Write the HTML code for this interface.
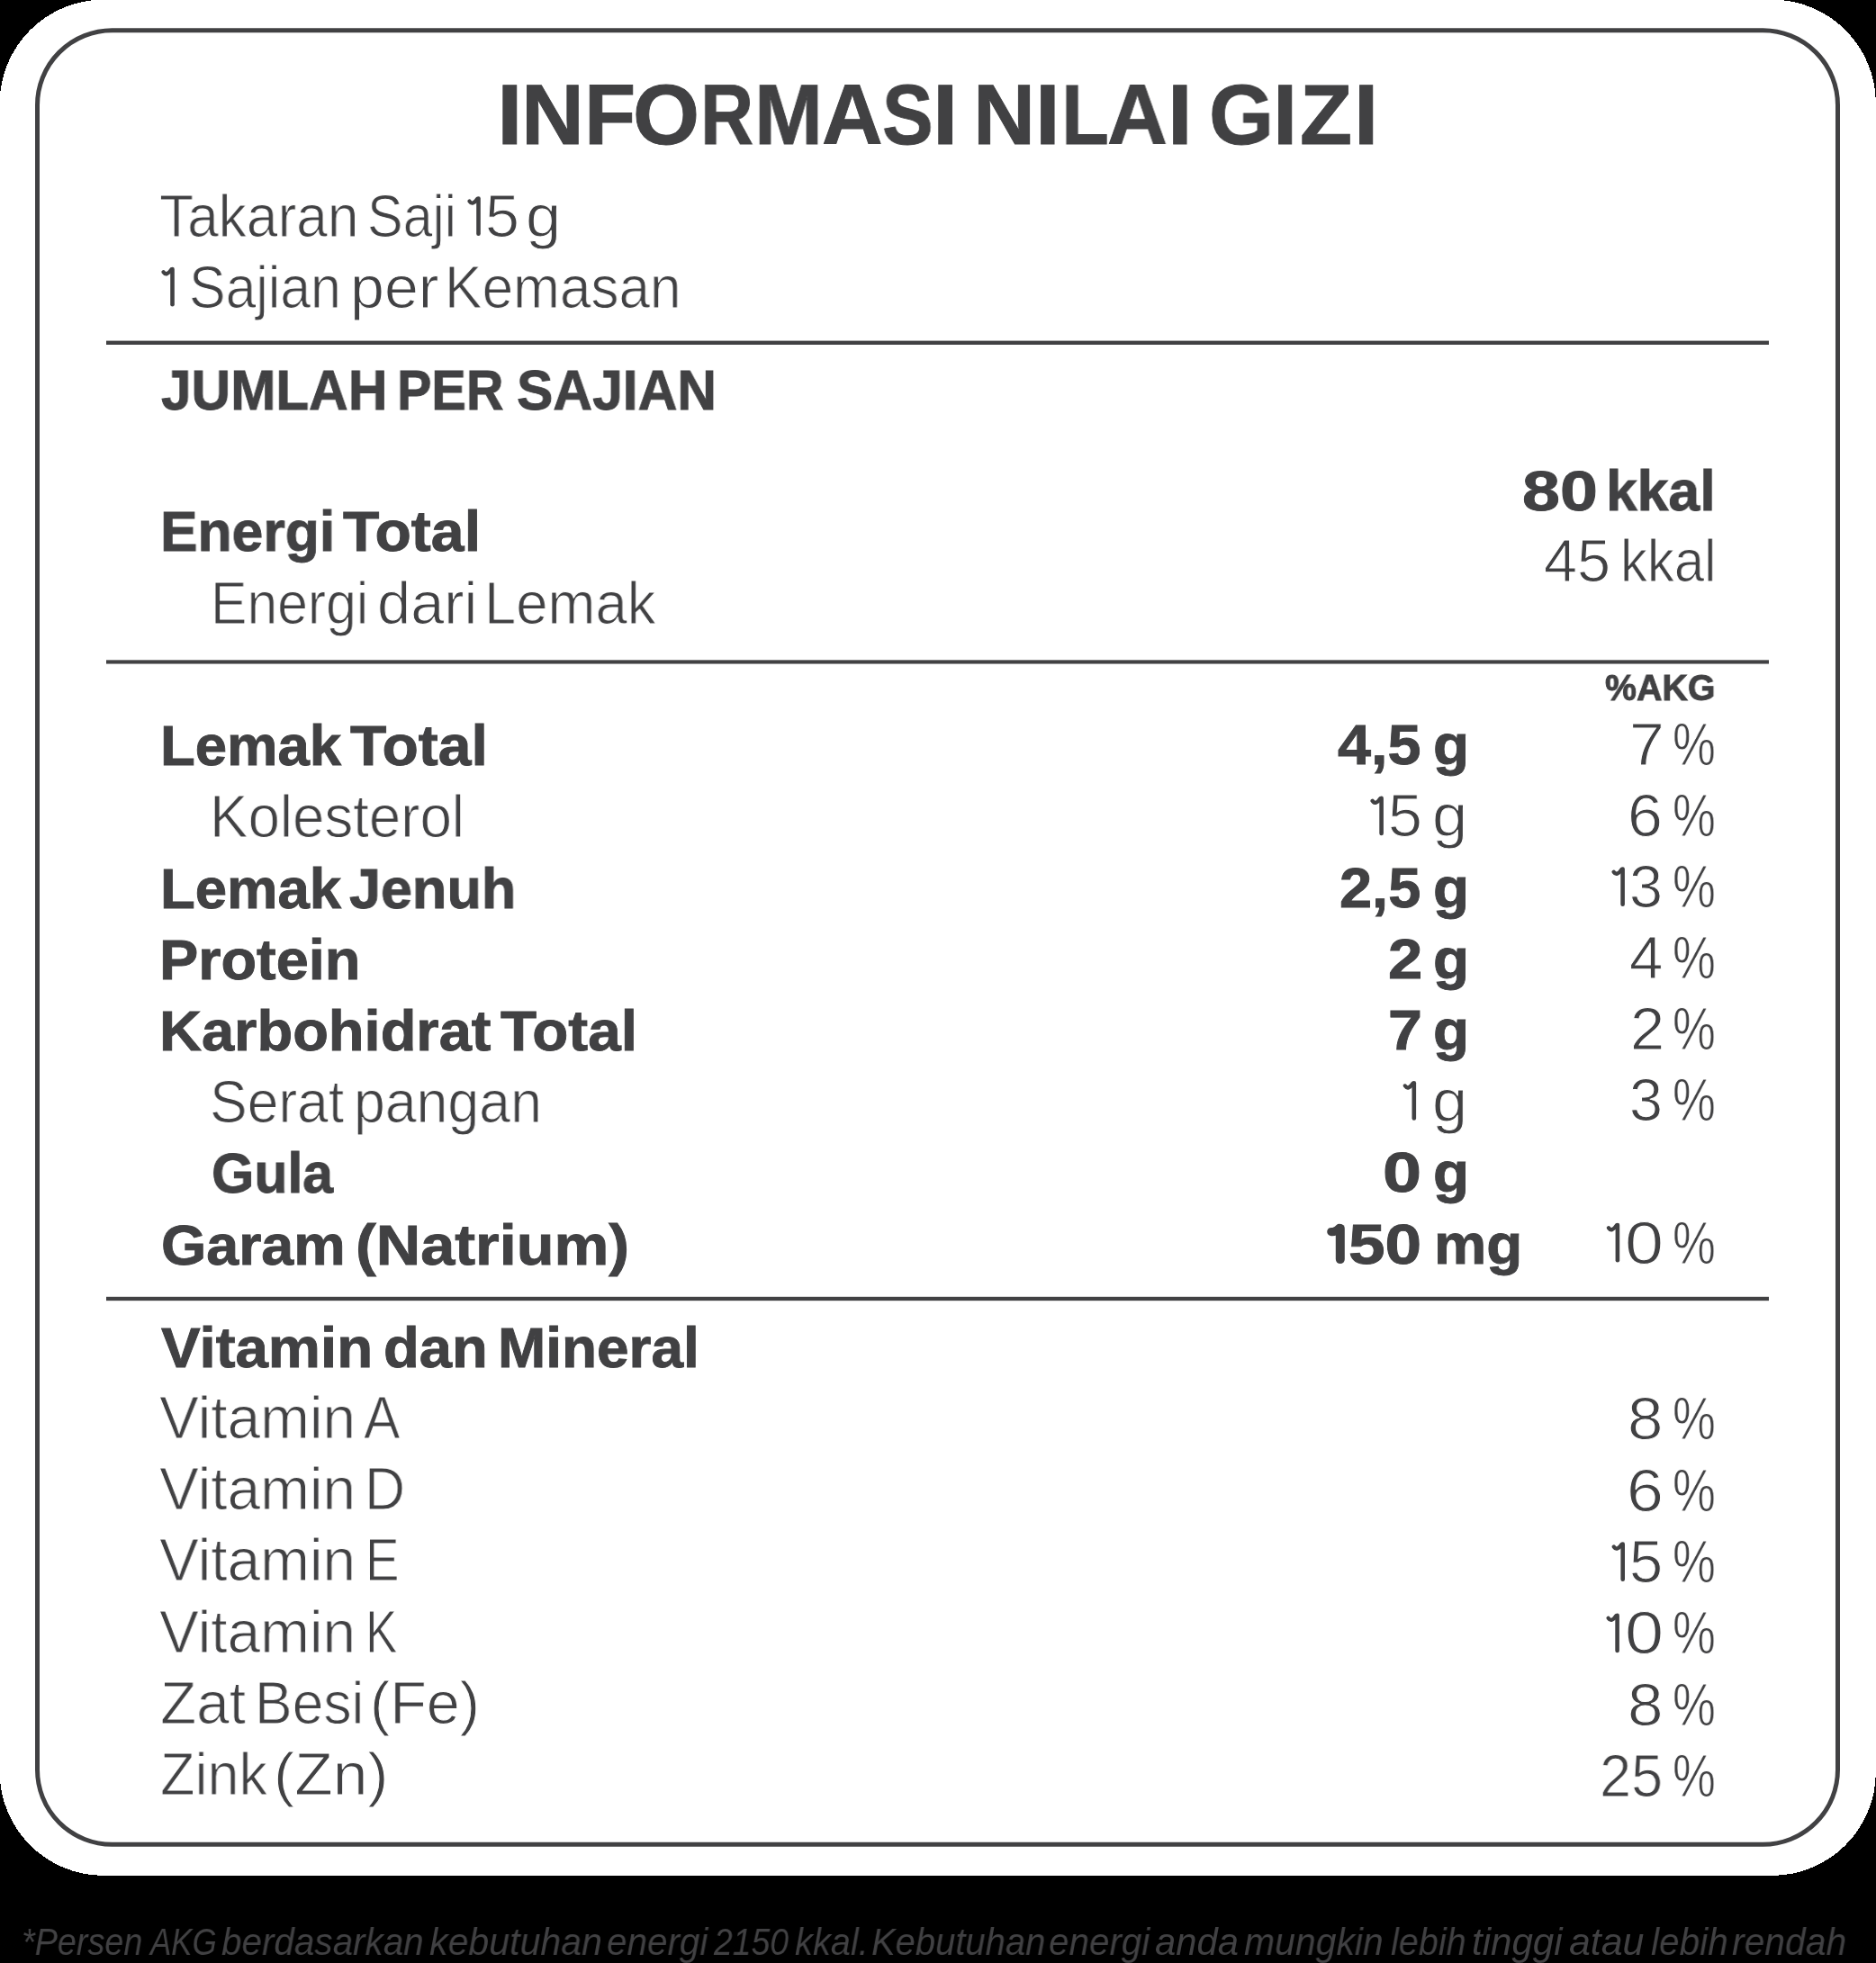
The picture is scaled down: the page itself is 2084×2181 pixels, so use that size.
<!DOCTYPE html>
<html><head><meta charset="utf-8"><style>
html,body{margin:0;padding:0}
body{width:2084px;height:2181px;background:#000;position:relative;overflow:hidden;font-family:"Liberation Sans",sans-serif;color:#414143}
.bg,.ones{position:absolute;left:0;top:0}
.t{position:absolute;white-space:pre;transform-origin:0 0;will-change:transform}
.b{font-weight:700;-webkit-text-stroke:0.9px #414143}
.r{-webkit-text-stroke:1.0px #fff}
.fn{font-style:italic}
</style></head><body>
<svg class="bg" width="2084" height="2181" viewBox="0 0 2084 2181"><rect x="-0.34" y="-0.34" width="2084.2" height="2084.2" rx="115.3" fill="#fff" shape-rendering="crispEdges"/><rect x="41.5" y="33.8" width="2000" height="2015.5" rx="83" fill="none" stroke="#414143" stroke-width="5"/><g fill="#414143"><rect x="118" y="378.6" width="1847" height="4.4"/><rect x="118" y="733.35" width="1847" height="4.2"/><rect x="118" y="1440.8" width="1847" height="4.35"/></g></svg>
<div class="t b" style="left:551.60px;top:81.30px;font-size:93.64px;line-height:93.64px;transform:scaleX(1.1000)">I</div>
<div class="t b" style="left:579.31px;top:81.30px;font-size:93.64px;line-height:93.64px;transform:scaleX(1.0321)">N</div>
<div class="t b" style="left:648.50px;top:81.30px;font-size:93.64px;line-height:93.64px;transform:scaleX(1.0000)">F</div>
<div class="t b" style="left:702.95px;top:81.30px;font-size:93.64px;line-height:93.64px;transform:scaleX(1.0167)">O</div>
<div class="t b" style="left:777.56px;top:81.30px;font-size:93.64px;line-height:93.64px;transform:scaleX(0.8733)">R</div>
<div class="t b" style="left:837.75px;top:81.30px;font-size:93.64px;line-height:93.64px;transform:scaleX(0.9742)">M</div>
<div class="t b" style="left:912.70px;top:81.30px;font-size:93.64px;line-height:93.64px;transform:scaleX(1.0000)">A</div>
<div class="t b" style="left:979.59px;top:81.30px;font-size:93.64px;line-height:93.64px;transform:scaleX(0.9070)">S</div>
<div class="t b" style="left:1036.19px;top:81.30px;font-size:93.64px;line-height:93.64px;transform:scaleX(1.0857)">I</div>
<div class="t b" style="left:1080.57px;top:81.30px;font-size:93.64px;line-height:93.64px;transform:scaleX(1.0214)">N</div>
<div class="t b" style="left:1150.21px;top:81.30px;font-size:93.64px;line-height:93.64px;transform:scaleX(1.0643)">I</div>
<div class="t b" style="left:1178.67px;top:81.30px;font-size:93.64px;line-height:93.64px;transform:scaleX(0.9224)">L</div>
<div class="t b" style="left:1230.42px;top:81.30px;font-size:93.64px;line-height:93.64px;transform:scaleX(0.9891)">A</div>
<div class="t b" style="left:1297.21px;top:81.30px;font-size:93.64px;line-height:93.64px;transform:scaleX(1.0643)">I</div>
<div class="t b" style="left:1343.13px;top:81.30px;font-size:93.64px;line-height:93.64px;transform:scaleX(0.9891)">G</div>
<div class="t b" style="left:1414.00px;top:81.30px;font-size:93.64px;line-height:93.64px;transform:scaleX(1.0500)">I</div>
<div class="t b" style="left:1443.77px;top:81.30px;font-size:93.64px;line-height:93.64px;transform:scaleX(1.0151)">Z</div>
<div class="t b" style="left:1503.50px;top:81.30px;font-size:93.64px;line-height:93.64px;transform:scaleX(1.0500)">I</div>
<div class="t r" style="left:177.43px;top:207.00px;font-size:66.58px;line-height:66.58px;transform:scaleX(0.9352)">Takaran</div>
<div class="t r" style="left:407.94px;top:207.00px;font-size:66.58px;line-height:66.58px;transform:scaleX(0.8902)">Saji</div>
<div class="t r" style="left:538.91px;top:207.00px;font-size:66.58px;line-height:66.58px;transform:scaleX(1.0233)">5</div>
<div class="t r" style="left:583.92px;top:207.00px;font-size:66.58px;line-height:66.58px;transform:scaleX(1.0586)">g</div>
<div class="t r" style="left:210.45px;top:285.60px;font-size:66.58px;line-height:66.58px;transform:scaleX(0.9125)">Sajian</div>
<div class="t r" style="left:388.78px;top:285.60px;font-size:66.58px;line-height:66.58px;transform:scaleX(1.0236)">per</div>
<div class="t r" style="left:493.80px;top:285.60px;font-size:66.58px;line-height:66.58px;transform:scaleX(0.9333)">Kemasan</div>
<div class="t b" style="left:178.65px;top:402.00px;font-size:63.49px;line-height:63.49px;transform:scaleX(0.9500)">JUMLAH</div>
<div class="t b" style="left:440.97px;top:402.00px;font-size:63.49px;line-height:63.49px;transform:scaleX(0.9071)">PER</div>
<div class="t b" style="left:574.35px;top:402.00px;font-size:63.49px;line-height:63.49px;transform:scaleX(0.9535)">SAJIAN</div>
<div class="t b" style="left:177.57px;top:559.40px;font-size:63.49px;line-height:63.49px;transform:scaleX(0.9821)">Energi</div>
<div class="t b" style="left:381.20px;top:559.40px;font-size:63.49px;line-height:63.49px;transform:scaleX(1.0413)">Total</div>
<div class="t r" style="left:233.84px;top:636.50px;font-size:66.58px;line-height:66.58px;transform:scaleX(0.9099)">Energi</div>
<div class="t r" style="left:419.19px;top:636.50px;font-size:66.58px;line-height:66.58px;transform:scaleX(1.0029)">dari</div>
<div class="t r" style="left:537.98px;top:636.50px;font-size:66.58px;line-height:66.58px;transform:scaleX(0.9531)">Lemak</div>
<div class="t b" style="left:1690.52px;top:513.50px;font-size:63.49px;line-height:63.49px;transform:scaleX(1.1879)">80</div>
<div class="t b" style="left:1784.17px;top:513.50px;font-size:63.49px;line-height:63.49px;transform:scaleX(0.9836)">kkal</div>
<div class="t r" style="left:1715.11px;top:590.00px;font-size:66.58px;line-height:66.58px;transform:scaleX(0.9957)">45</div>
<div class="t r" style="left:1799.60px;top:590.00px;font-size:66.58px;line-height:66.58px;transform:scaleX(0.9000)">kkal</div>
<div class="t b" style="left:1783.15px;top:743.20px;font-size:41.52px;line-height:41.52px;transform:scaleX(0.9476)">%AKG</div>
<div class="t b" style="left:177.60px;top:796.80px;font-size:63.49px;line-height:63.49px;transform:scaleX(1.0000)">Lemak</div>
<div class="t b" style="left:388.90px;top:796.80px;font-size:63.49px;line-height:63.49px;transform:scaleX(1.0399)">Total</div>
<div class="t b" style="left:1486.25px;top:796.00px;font-size:63.49px;line-height:63.49px;transform:scaleX(1.0477)">4,5</div>
<div class="t b" style="left:1591.83px;top:796.00px;font-size:63.49px;line-height:63.49px;transform:scaleX(1.0333)">g</div>
<div class="t r" style="left:1810.41px;top:793.90px;font-size:66.58px;line-height:66.58px;transform:scaleX(1.0483)">7</div>
<div class="t r" style="left:1857.67px;top:793.90px;font-size:66.58px;line-height:66.58px;transform:scaleX(0.8094)">%</div>
<div class="t r" style="left:232.57px;top:874.00px;font-size:66.58px;line-height:66.58px;transform:scaleX(0.9558)">Kolesterol</div>
<div class="t r" style="left:1541.91px;top:873.20px;font-size:66.58px;line-height:66.58px;transform:scaleX(1.0233)">5</div>
<div class="t r" style="left:1590.82px;top:873.20px;font-size:66.58px;line-height:66.58px;transform:scaleX(1.0586)">g</div>
<div class="t r" style="left:1808.30px;top:873.00px;font-size:66.58px;line-height:66.58px;transform:scaleX(1.0500)">6</div>
<div class="t r" style="left:1857.67px;top:873.00px;font-size:66.58px;line-height:66.58px;transform:scaleX(0.8094)">%</div>
<div class="t b" style="left:177.60px;top:956.00px;font-size:63.49px;line-height:63.49px;transform:scaleX(1.0000)">Lemak</div>
<div class="t b" style="left:388.41px;top:956.00px;font-size:63.49px;line-height:63.49px;transform:scaleX(0.9907)">Jenuh</div>
<div class="t b" style="left:1488.46px;top:955.20px;font-size:63.49px;line-height:63.49px;transform:scaleX(1.0224)">2,5</div>
<div class="t b" style="left:1591.83px;top:955.20px;font-size:63.49px;line-height:63.49px;transform:scaleX(1.0333)">g</div>
<div class="t r" style="left:1810.01px;top:952.10px;font-size:66.58px;line-height:66.58px;transform:scaleX(0.9968)">3</div>
<div class="t r" style="left:1857.67px;top:952.10px;font-size:66.58px;line-height:66.58px;transform:scaleX(0.8094)">%</div>
<div class="t b" style="left:177.11px;top:1035.10px;font-size:63.49px;line-height:63.49px;transform:scaleX(1.0213)">Protein</div>
<div class="t b" style="left:1541.63px;top:1034.30px;font-size:63.49px;line-height:63.49px;transform:scaleX(1.0839)">2</div>
<div class="t b" style="left:1591.83px;top:1034.30px;font-size:63.49px;line-height:63.49px;transform:scaleX(1.0333)">g</div>
<div class="t r" style="left:1809.68px;top:1031.20px;font-size:66.58px;line-height:66.58px;transform:scaleX(1.0091)">4</div>
<div class="t r" style="left:1857.67px;top:1031.20px;font-size:66.58px;line-height:66.58px;transform:scaleX(0.8094)">%</div>
<div class="t b" style="left:177.00px;top:1114.05px;font-size:63.49px;line-height:63.49px;transform:scaleX(1.0242)">Karbohidrat</div>
<div class="t b" style="left:556.40px;top:1114.05px;font-size:63.49px;line-height:63.49px;transform:scaleX(1.0336)">Total</div>
<div class="t b" style="left:1542.45px;top:1113.25px;font-size:63.49px;line-height:63.49px;transform:scaleX(1.0742)">7</div>
<div class="t b" style="left:1591.83px;top:1113.25px;font-size:63.49px;line-height:63.49px;transform:scaleX(1.0333)">g</div>
<div class="t r" style="left:1810.98px;top:1110.30px;font-size:66.58px;line-height:66.58px;transform:scaleX(1.0310)">2</div>
<div class="t r" style="left:1857.67px;top:1110.30px;font-size:66.58px;line-height:66.58px;transform:scaleX(0.8094)">%</div>
<div class="t r" style="left:233.05px;top:1190.60px;font-size:66.58px;line-height:66.58px;transform:scaleX(0.9370)">Serat</div>
<div class="t r" style="left:393.40px;top:1190.60px;font-size:66.58px;line-height:66.58px;transform:scaleX(0.9401)">pangan</div>
<div class="t r" style="left:1590.83px;top:1189.80px;font-size:66.58px;line-height:66.58px;transform:scaleX(1.0552)">g</div>
<div class="t r" style="left:1810.00px;top:1189.40px;font-size:66.58px;line-height:66.58px;transform:scaleX(1.0000)">3</div>
<div class="t r" style="left:1857.67px;top:1189.40px;font-size:66.58px;line-height:66.58px;transform:scaleX(0.8094)">%</div>
<div class="t b" style="left:234.89px;top:1271.80px;font-size:63.49px;line-height:63.49px;transform:scaleX(0.9571)">Gula</div>
<div class="t b" style="left:1535.56px;top:1271.00px;font-size:63.49px;line-height:63.49px;transform:scaleX(1.2194)">0</div>
<div class="t b" style="left:1591.83px;top:1271.00px;font-size:63.49px;line-height:63.49px;transform:scaleX(1.0333)">g</div>
<div class="t b" style="left:179.07px;top:1351.90px;font-size:63.49px;line-height:63.49px;transform:scaleX(1.0173)">Garam</div>
<div class="t b" style="left:395.47px;top:1351.90px;font-size:63.49px;line-height:63.49px;transform:scaleX(1.0779)">(Natrium)</div>
<div class="t b" style="left:1498.00px;top:1351.10px;font-size:63.49px;line-height:63.49px;transform:scaleX(1.1500)">50</div>
<div class="t b" style="left:1593.37px;top:1351.10px;font-size:63.49px;line-height:63.49px;transform:scaleX(1.0322)">mg</div>
<div class="t r" style="left:1804.52px;top:1347.60px;font-size:66.58px;line-height:66.58px;transform:scaleX(1.1613)">0</div>
<div class="t r" style="left:1857.67px;top:1347.60px;font-size:66.58px;line-height:66.58px;transform:scaleX(0.8094)">%</div>
<div class="t b" style="left:179.30px;top:1465.90px;font-size:63.49px;line-height:63.49px;transform:scaleX(1.0307)">Vitamin</div>
<div class="t b" style="left:425.75px;top:1465.90px;font-size:63.49px;line-height:63.49px;transform:scaleX(1.0252)">dan</div>
<div class="t b" style="left:552.57px;top:1465.90px;font-size:63.49px;line-height:63.49px;transform:scaleX(1.0070)">Mineral</div>
<div class="t r" style="left:177.03px;top:1541.70px;font-size:66.58px;line-height:66.58px;transform:scaleX(0.9874)">Vitamin</div>
<div class="t r" style="left:404.09px;top:1541.70px;font-size:66.58px;line-height:66.58px;transform:scaleX(0.9119)">A</div>
<div class="t r" style="left:1807.91px;top:1543.40px;font-size:66.58px;line-height:66.58px;transform:scaleX(1.0645)">8</div>
<div class="t r" style="left:1857.67px;top:1543.40px;font-size:66.58px;line-height:66.58px;transform:scaleX(0.8094)">%</div>
<div class="t r" style="left:177.03px;top:1620.60px;font-size:66.58px;line-height:66.58px;transform:scaleX(0.9874)">Vitamin</div>
<div class="t r" style="left:405.48px;top:1620.60px;font-size:66.58px;line-height:66.58px;transform:scaleX(0.9368)">D</div>
<div class="t r" style="left:1806.59px;top:1622.68px;font-size:66.58px;line-height:66.58px;transform:scaleX(1.1033)">6</div>
<div class="t r" style="left:1857.67px;top:1622.68px;font-size:66.58px;line-height:66.58px;transform:scaleX(0.8094)">%</div>
<div class="t r" style="left:177.03px;top:1700.00px;font-size:66.58px;line-height:66.58px;transform:scaleX(0.9874)">Vitamin</div>
<div class="t r" style="left:406.04px;top:1700.00px;font-size:66.58px;line-height:66.58px;transform:scaleX(0.8429)">E</div>
<div class="t r" style="left:1809.99px;top:1701.96px;font-size:66.58px;line-height:66.58px;transform:scaleX(1.0033)">5</div>
<div class="t r" style="left:1857.67px;top:1701.96px;font-size:66.58px;line-height:66.58px;transform:scaleX(0.8094)">%</div>
<div class="t r" style="left:177.03px;top:1779.50px;font-size:66.58px;line-height:66.58px;transform:scaleX(0.9874)">Vitamin</div>
<div class="t r" style="left:406.32px;top:1779.50px;font-size:66.58px;line-height:66.58px;transform:scaleX(0.7972)">K</div>
<div class="t r" style="left:1804.51px;top:1781.24px;font-size:66.58px;line-height:66.58px;transform:scaleX(1.1645)">0</div>
<div class="t r" style="left:1857.67px;top:1781.24px;font-size:66.58px;line-height:66.58px;transform:scaleX(0.8094)">%</div>
<div class="t r" style="left:177.84px;top:1858.60px;font-size:66.58px;line-height:66.58px;transform:scaleX(0.9870)">Zat</div>
<div class="t r" style="left:282.68px;top:1858.60px;font-size:66.58px;line-height:66.58px;transform:scaleX(0.9364)">Besi</div>
<div class="t r" style="left:410.61px;top:1858.60px;font-size:66.58px;line-height:66.58px;transform:scaleX(0.9982)">(Fe)</div>
<div class="t r" style="left:1807.80px;top:1860.52px;font-size:66.58px;line-height:66.58px;transform:scaleX(1.0677)">8</div>
<div class="t r" style="left:1857.67px;top:1860.52px;font-size:66.58px;line-height:66.58px;transform:scaleX(0.8094)">%</div>
<div class="t r" style="left:177.96px;top:1937.50px;font-size:66.58px;line-height:66.58px;transform:scaleX(0.9455)">Zink</div>
<div class="t r" style="left:303.78px;top:1937.50px;font-size:66.58px;line-height:66.58px;transform:scaleX(1.0446)">(Zn)</div>
<div class="t r" style="left:1776.81px;top:1939.80px;font-size:66.58px;line-height:66.58px;transform:scaleX(0.9478)">25</div>
<div class="t r" style="left:1857.67px;top:1939.80px;font-size:66.58px;line-height:66.58px;transform:scaleX(0.8094)">%</div>
<div class="t fn" style="left:24.19px;top:2136.70px;font-size:41.75px;line-height:41.75px;transform:scaleX(0.9049)">*Persen</div>
<div class="t fn" style="left:167.17px;top:2136.70px;font-size:41.75px;line-height:41.75px;transform:scaleX(0.8352)">AKG</div>
<div class="t fn" style="left:246.33px;top:2136.70px;font-size:41.75px;line-height:41.75px;transform:scaleX(0.9681)">berdasarkan</div>
<div class="t fn" style="left:477.32px;top:2136.70px;font-size:41.75px;line-height:41.75px;transform:scaleX(0.9844)">kebutuhan</div>
<div class="t fn" style="left:674.13px;top:2136.70px;font-size:41.75px;line-height:41.75px;transform:scaleX(0.9681)">energi</div>
<div class="t fn" style="left:792.90px;top:2136.70px;font-size:41.75px;line-height:41.75px;transform:scaleX(0.8935)">2150</div>
<div class="t fn" style="left:883.45px;top:2136.70px;font-size:41.75px;line-height:41.75px;transform:scaleX(0.9525)">kkal.</div>
<div class="t fn" style="left:967.84px;top:2136.70px;font-size:41.75px;line-height:41.75px;transform:scaleX(0.9573)">Kebutuhan</div>
<div class="t fn" style="left:1165.23px;top:2136.70px;font-size:41.75px;line-height:41.75px;transform:scaleX(0.9672)">energi</div>
<div class="t fn" style="left:1283.00px;top:2136.70px;font-size:41.75px;line-height:41.75px;transform:scaleX(1.0000)">anda</div>
<div class="t fn" style="left:1382.02px;top:2136.70px;font-size:41.75px;line-height:41.75px;transform:scaleX(0.9806)">mungkin</div>
<div class="t fn" style="left:1544.65px;top:2136.70px;font-size:41.75px;line-height:41.75px;transform:scaleX(0.9482)">lebih</div>
<div class="t fn" style="left:1634.68px;top:2136.70px;font-size:41.75px;line-height:41.75px;transform:scaleX(1.0081)">tinggi</div>
<div class="t fn" style="left:1742.77px;top:2136.70px;font-size:41.75px;line-height:41.75px;transform:scaleX(1.0253)">atau</div>
<div class="t fn" style="left:1833.63px;top:2136.70px;font-size:41.75px;line-height:41.75px;transform:scaleX(0.9718)">lebih</div>
<div class="t fn" style="left:1924.32px;top:2136.70px;font-size:41.75px;line-height:41.75px;transform:scaleX(0.9787)">rendah</div>
<svg class="ones" width="2084" height="2181" viewBox="0 0 2084 2181" fill="none" stroke="#414143" stroke-linecap="round" stroke-linejoin="round"><path d="M531.50 259.70V220.50" stroke-width="4.6"/><path d="M521.50 223.60Q525.00 228.80 530.20 221.00" stroke-width="4.3"/><path d="M191.50 338.30V299.10" stroke-width="4.6"/><path d="M181.50 302.20Q185.00 307.40 190.20 299.60" stroke-width="4.3"/><path d="M1534.60 925.90V886.70" stroke-width="4.6"/><path d="M1524.60 889.80Q1528.10 895.00 1533.30 887.20" stroke-width="4.3"/><path d="M1802.60 1004.80V965.60" stroke-width="4.6"/><path d="M1792.60 968.70Q1796.10 973.90 1801.30 966.10" stroke-width="4.3"/><path d="M1570.80 1242.50V1203.30" stroke-width="4.6"/><path d="M1560.80 1206.40Q1564.30 1211.60 1569.50 1203.80" stroke-width="4.3"/><path d="M1488.80 1399.10V1364.90" stroke-width="10"/><path d="M1478.80 1368.50Q1482.80 1369.40 1487.80 1364.40" stroke-width="9.2"/><path d="M1796.90 1400.30V1361.10" stroke-width="4.6"/><path d="M1786.90 1364.20Q1790.40 1369.40 1795.60 1361.60" stroke-width="4.3"/><path d="M1802.70 1754.66V1715.46" stroke-width="4.6"/><path d="M1792.70 1718.56Q1796.20 1723.76 1801.40 1715.96" stroke-width="4.3"/><path d="M1796.60 1833.94V1794.74" stroke-width="4.6"/><path d="M1786.60 1797.84Q1790.10 1803.04 1795.30 1795.24" stroke-width="4.3"/></svg>
</body></html>
